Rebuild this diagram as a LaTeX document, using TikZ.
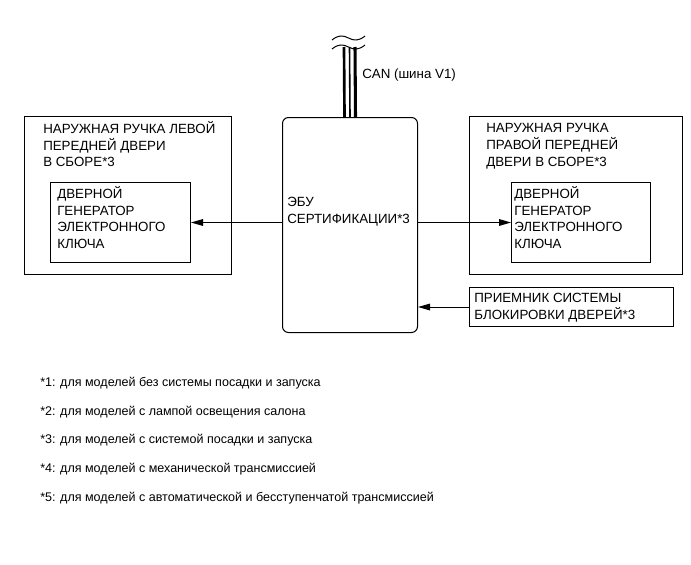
\documentclass[tikz,border=0pt]{standalone}
\usepackage{fontspec}
\setmainfont{Liberation Sans}
\usepackage{tikz}
\usetikzlibrary{arrows.meta, positioning, calc}

\newdimen\pxu
\pxu=0.75pt

\begin{document}
\begin{tikzpicture}[
    x=0.75pt, y=-0.75pt,
    font=\fontsize{10}{12.6}\selectfont,
    block/.style={rectangle, draw, line width=0.75pt, inner sep=0pt, anchor=north west},
    ecubox/.style={block, rounded corners=4.5pt},
    txt/.style={anchor=north west, inner sep=0pt, align=left, execute at begin node=\strut},
    note/.style={anchor=base west, inner sep=0pt},
    fnote/.style={note, font=\fontsize{9.4}{12}\selectfont},
    arrow/.style={line width=0.75pt, -{Triangle[length=9pt, width=5pt]}},
    wire/.style={line cap=butt}
]
\useasboundingbox (0,0) rectangle (691,564);

% Nodes
\node (lhandle) [block, minimum width=207\pxu, minimum height=158\pxu] at (24,116) {};
\node (lgen) [block, minimum width=140\pxu, minimum height=80\pxu] at (50,182) {};
\node (ecu) [ecubox, minimum width=135\pxu, minimum height=215\pxu] at (282,117) {};
\node (rhandle) [block, minimum width=213\pxu, minimum height=158\pxu] at (469,116) {};
\node (rgen) [block, minimum width=139\pxu, minimum height=80\pxu] at (511,182) {};
\node (recv) [block, minimum width=204\pxu, minimum height=39\pxu] at (469,287) {};

% Texts
\node (lhandletxt) [txt] at ($(lhandle.north west)+(19,5)$) {НАРУЖНАЯ РУЧКА ЛЕВОЙ\\ПЕРЕДНЕЙ ДВЕРИ\\В СБОРЕ*3};
\node (lgentxt) [txt] at ($(lgen.north west)+(7,4)$) {ДВЕРНОЙ\\ГЕНЕРАТОР\\ЭЛЕКТРОННОГО\\КЛЮЧА};
\node (ecutxt) [txt] at ($(ecu.north west)+(5,80)$) {ЭБУ\\СЕРТИФИКАЦИИ*3};
\node (rhandletxt) [txt] at ($(rhandle.north west)+(17,7)$) {НАРУЖНАЯ РУЧКА\\ПРАВОЙ ПЕРЕДНЕЙ\\ДВЕРИ В СБОРЕ*3};
\node (rgentxt) [txt] at ($(rgen.north west)+(3,4)$) {ДВЕРНОЙ\\ГЕНЕРАТОР\\ЭЛЕКТРОННОГО\\КЛЮЧА};
\node (recvtxt) [txt] at ($(recv.north west)+(5,6)$) {ПРИЕМНИК СИСТЕМЫ\\БЛОКИРОВКИ ДВЕРЕЙ*3};

% CAN bus
\coordinate (canend) at (349.5,47);
\node (can) [note] at (362,78) {CAN (шина V1)};
\draw [wire, line width=2pt] ([xshift=-5.5\pxu]canend) -- ([xshift=-5.5\pxu]ecu.north);
\draw [wire, line width=1.2pt] (canend) -- (ecu.north);
\draw [wire, line width=2.3pt] ([xshift=5.5\pxu]canend) -- ([xshift=5.5\pxu]ecu.north);
\draw [line width=0.75pt] (332,40) .. controls (338,35) and (343,35) .. (348.5,38) .. controls (354,41) and (359,41) .. (365,36);
\draw [line width=0.75pt] (332,49) .. controls (338,44) and (343,44) .. (348.5,47) .. controls (354,50) and (359,50) .. (365,45);

% Arrows
\draw [arrow] (ecu.west |- lgen.east) -- (lgen.east);
\draw [arrow] (ecu.east |- rgen.west) -- (rgen.west);
\draw [arrow] (recv.west) -- (recv.west -| ecu.east);

% Footnotes
\node (fn1) [fnote] at (40,386.5) {*1: для моделей без системы посадки и запуска};
\node (fn2) [fnote] at ($(fn1.base west)+(0,28.7)$) {*2: для моделей с лампой освещения салона};
\node (fn3) [fnote] at ($(fn2.base west)+(0,28.7)$) {*3: для моделей с системой посадки и запуска};
\node (fn4) [fnote] at ($(fn3.base west)+(0,28.7)$) {*4: для моделей с механической трансмиссией};
\node (fn5) [fnote] at ($(fn4.base west)+(0,28.7)$) {*5: для моделей с автоматической и бесступенчатой трансмиссией};

\end{tikzpicture}
\end{document}
